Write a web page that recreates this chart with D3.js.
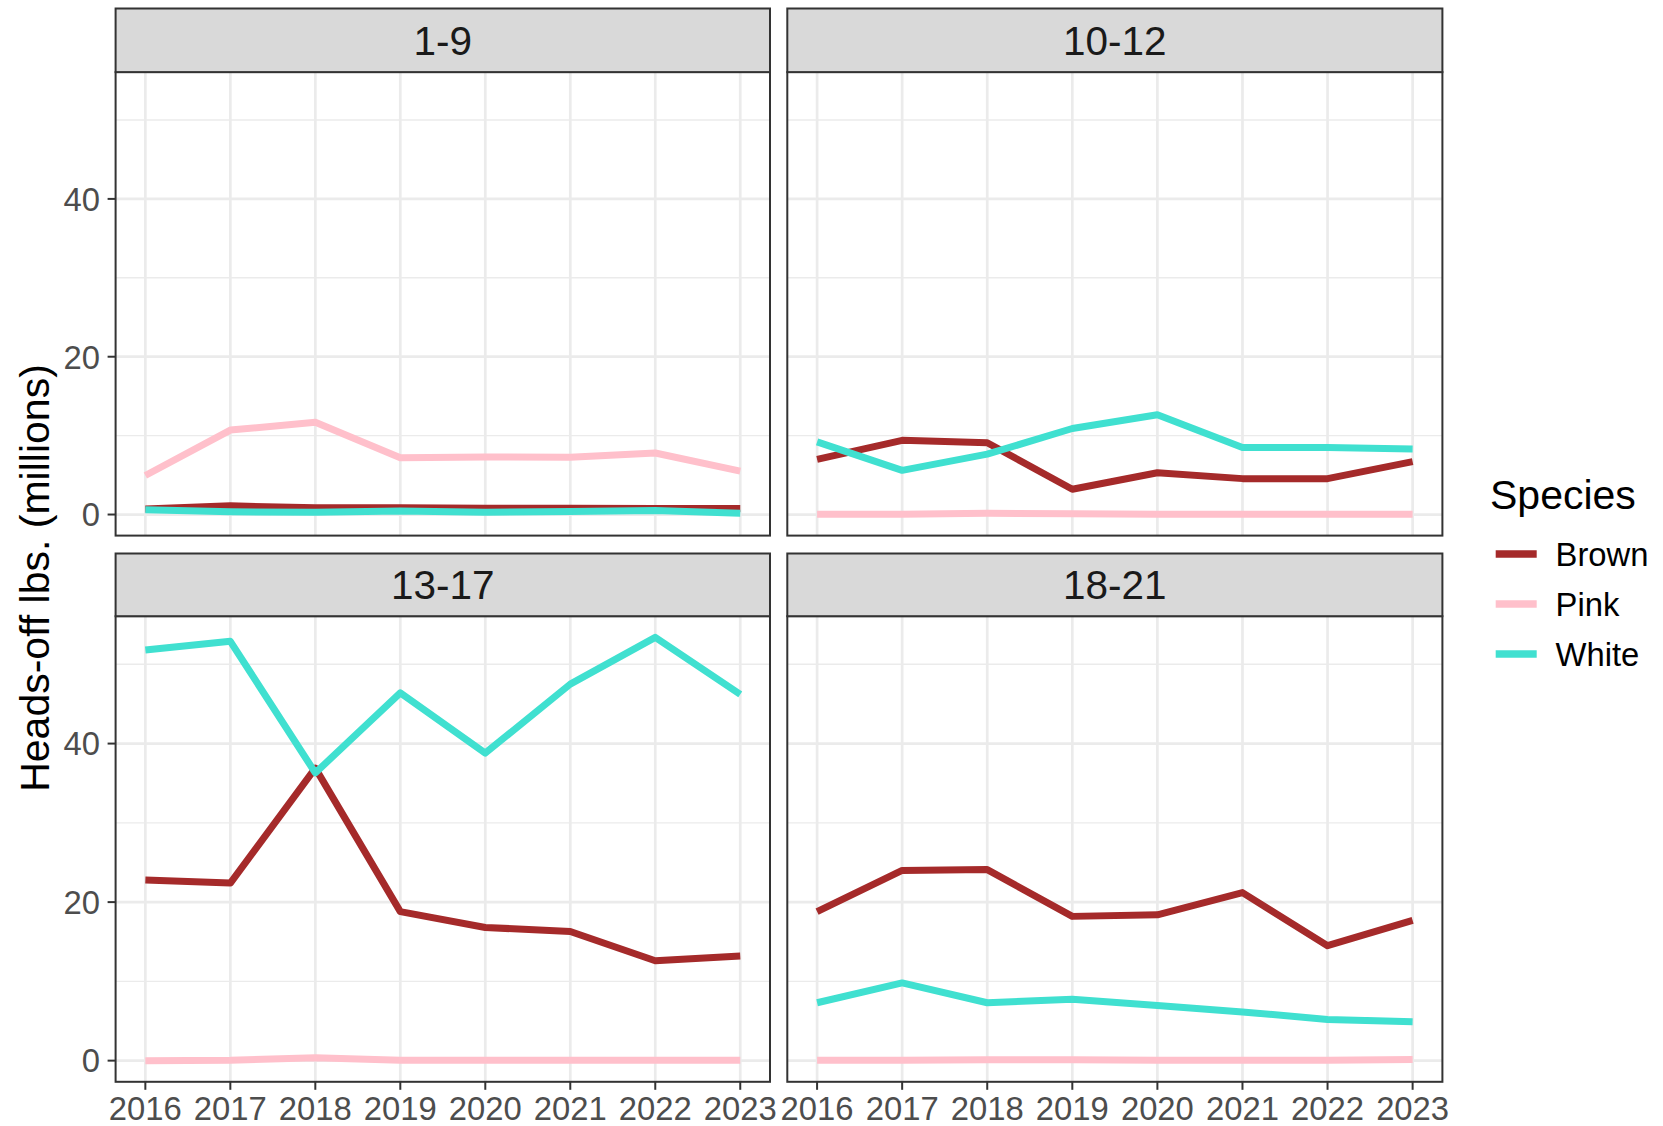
<!DOCTYPE html>
<html>
<head>
<meta charset="utf-8">
<script src="https://cdn.jsdelivr.net/npm/d3@7"></script>
<style>
  body { margin: 0; background: white; }
  svg { display: block; font-family: "Liberation Sans", Arial, sans-serif; }
</style>
</head>
<body>
<script>
// data (heads-off lbs, millions)
const years = [2016, 2017, 2018, 2019, 2020, 2021, 2022, 2023];
const regions = ["1-9", "10-12", "13-17", "18-21"];
const species = ["Brown", "Pink", "White"];
const speciesColors = ["#A52A2A", "#FFC0CB", "#40E0D0"];
const yTicks = [0, 20, 40];
const yMinor = [10, 30, 50];

const brown_1_9  = [0.7, 1.1, 0.85, 0.85, 0.8, 0.8, 0.75, 0.75];
const pink_1_9   = [4.95, 10.7, 11.7, 7.2, 7.3, 7.25, 7.8, 5.5];
const white_1_9  = [0.6, 0.35, 0.3, 0.45, 0.3, 0.4, 0.5, 0.15];

const brown_10_12 = [7.0, 9.4, 9.1, 3.2, 5.3, 4.55, 4.55, 6.7];
const pink_10_12  = [0.05, 0.05, 0.15, 0.1, 0.05, 0.05, 0.05, 0.05];
const white_10_12 = [9.2, 5.6, 7.65, 10.9, 12.65, 8.5, 8.5, 8.3];

const brown_13_17 = [22.8, 22.4, 36.9, 18.8, 16.8, 16.3, 12.6, 13.2];
const pink_13_17  = [0.0, 0.05, 0.35, 0.05, 0.05, 0.05, 0.05, 0.05];
const white_13_17 = [51.8, 52.9, 36.3, 46.4, 38.8, 47.5, 53.4, 46.2];

const brown_18_21 = [18.8, 24.0, 24.1, 18.2, 18.4, 21.2, 14.5, 17.7];
const pink_18_21  = [0.05, 0.05, 0.1, 0.1, 0.05, 0.05, 0.05, 0.15];
const white_18_21 = [7.3, 9.8, 7.3, 7.75, 6.95, 6.15, 5.2, 4.9];

const seriesByRegion = [
    [brown_1_9, pink_1_9, white_1_9],
    [brown_10_12, pink_10_12, white_10_12],
    [brown_13_17, pink_13_17, white_13_17],
    [brown_18_21, pink_18_21, white_18_21]
];

let width = 1663, height = 1126;

let svg = d3.select("body").append("svg")
    .attr("width", width)
    .attr("height", height);

svg.append("rect")
    .attr("x", 0).attr("y", 0)
    .attr("width", width).attr("height", height)
    .attr("fill", "white");

// facet layout
const cols = [[115.6, 770], [787.3, 1442.4]];
const rows = [{ stripTop: 8.5, top: 72.1, bottom: 535.6 },
              { stripTop: 553.5, top: 616.2, bottom: 1081.8 }];

// shared scales domains (ggplot 5% expansion)
const allVals = seriesByRegion.flat(2);
const yMax = d3.max(allVals), yMin = 0;
const yPad = (yMax - yMin) * 0.05;
const xPad = (years[years.length - 1] - years[0]) * 0.05;

const tickFont = "32.8px";
const line = d3.line().x(d => d[0]).y(d => d[1]);

regions.forEach(function(reg, i) {
    let c = cols[i % 2], r = rows[Math.floor(i / 2)];
    let x = d3.scaleLinear()
        .domain([years[0] - xPad, years[years.length - 1] + xPad])
        .range([c[0], c[1]]);
    let y = d3.scaleLinear()
        .domain([yMin - yPad, yMax + yPad])
        .range([r.bottom, r.top]);
    let g = svg.append("g");

    // grid
    g.selectAll(".minor").data(yMinor).enter().append("line")
        .attr("x1", c[0]).attr("x2", c[1])
        .attr("y1", d => y(d)).attr("y2", d => y(d))
        .attr("stroke", "#EBEBEB").attr("stroke-width", 1.4);
    g.selectAll(".majory").data(yTicks).enter().append("line")
        .attr("x1", c[0]).attr("x2", c[1])
        .attr("y1", d => y(d)).attr("y2", d => y(d))
        .attr("stroke", "#EBEBEB").attr("stroke-width", 2.7);
    g.selectAll(".majorx").data(years).enter().append("line")
        .attr("x1", d => x(d)).attr("x2", d => x(d))
        .attr("y1", r.top).attr("y2", r.bottom)
        .attr("stroke", "#EBEBEB").attr("stroke-width", 2.7);

    // lines
    seriesByRegion[i].forEach(function(vals, s) {
        g.append("path")
            .attr("d", line(vals.map((v, k) => [x(years[k]), y(v)])))
            .attr("fill", "none")
            .attr("stroke", speciesColors[s])
            .attr("stroke-width", 7)
            .attr("stroke-linejoin", "round")
            .attr("stroke-linecap", "butt");
    });

    // panel border
    g.append("rect")
        .attr("x", c[0]).attr("y", r.top)
        .attr("width", c[1] - c[0]).attr("height", r.bottom - r.top)
        .attr("fill", "none").attr("stroke", "#333333").attr("stroke-width", 2);

    // strip
    g.append("rect")
        .attr("x", c[0]).attr("y", r.stripTop)
        .attr("width", c[1] - c[0]).attr("height", r.top - r.stripTop)
        .attr("fill", "#D9D9D9").attr("stroke", "#333333").attr("stroke-width", 2);
    g.append("text")
        .attr("x", (c[0] + c[1]) / 2)
        .attr("y", (r.stripTop + r.top) / 2)
        .attr("dy", "0.36em")
        .attr("text-anchor", "middle")
        .attr("font-size", "40.5px")
        .attr("fill", "#1A1A1A")
        .text(reg);

    // y axis ticks (left column)
    if (i % 2 == 0) {
        g.selectAll(".yt").data(yTicks).enter().append("line")
            .attr("x1", c[0] - 8).attr("x2", c[0])
            .attr("y1", d => y(d)).attr("y2", d => y(d))
            .attr("stroke", "#333333").attr("stroke-width", 2);
        g.selectAll(".yl").data(yTicks).enter().append("text")
            .attr("x", c[0] - 15.5)
            .attr("y", d => y(d))
            .attr("dy", "0.36em")
            .attr("text-anchor", "end")
            .attr("font-size", tickFont)
            .attr("fill", "#4D4D4D")
            .text(d => d);
    }
    // x axis ticks (bottom row)
    if (i >= 2) {
        g.selectAll(".xt").data(years).enter().append("line")
            .attr("x1", d => x(d)).attr("x2", d => x(d))
            .attr("y1", r.bottom).attr("y2", r.bottom + 8)
            .attr("stroke", "#333333").attr("stroke-width", 2);
        g.selectAll(".xl").data(years).enter().append("text")
            .attr("x", d => x(d))
            .attr("y", r.bottom + 38)
            .attr("text-anchor", "middle")
            .attr("font-size", tickFont)
            .attr("fill", "#4D4D4D")
            .text(d => d);
    }
});

// y axis title
svg.append("text")
    .attr("transform", "translate(49,578) rotate(-90)")
    .attr("text-anchor", "middle")
    .attr("font-size", "41px")
    .attr("fill", "black")
    .text("Heads-off lbs. (millions)");

// legend
svg.append("text")
    .attr("x", 1490).attr("y", 509)
    .attr("font-size", "41px")
    .attr("fill", "black")
    .text("Species");
species.forEach(function(sp, s) {
    let ly = 554 + s * 50;
    svg.append("line")
        .attr("x1", 1495.7).attr("x2", 1536.7)
        .attr("y1", ly).attr("y2", ly)
        .attr("stroke", speciesColors[s])
        .attr("stroke-width", 7.5);
    svg.append("text")
        .attr("x", 1555.5).attr("y", ly)
        .attr("dy", "0.36em")
        .attr("font-size", tickFont)
        .attr("fill", "black")
        .text(sp);
});
</script>
</body>
</html>
